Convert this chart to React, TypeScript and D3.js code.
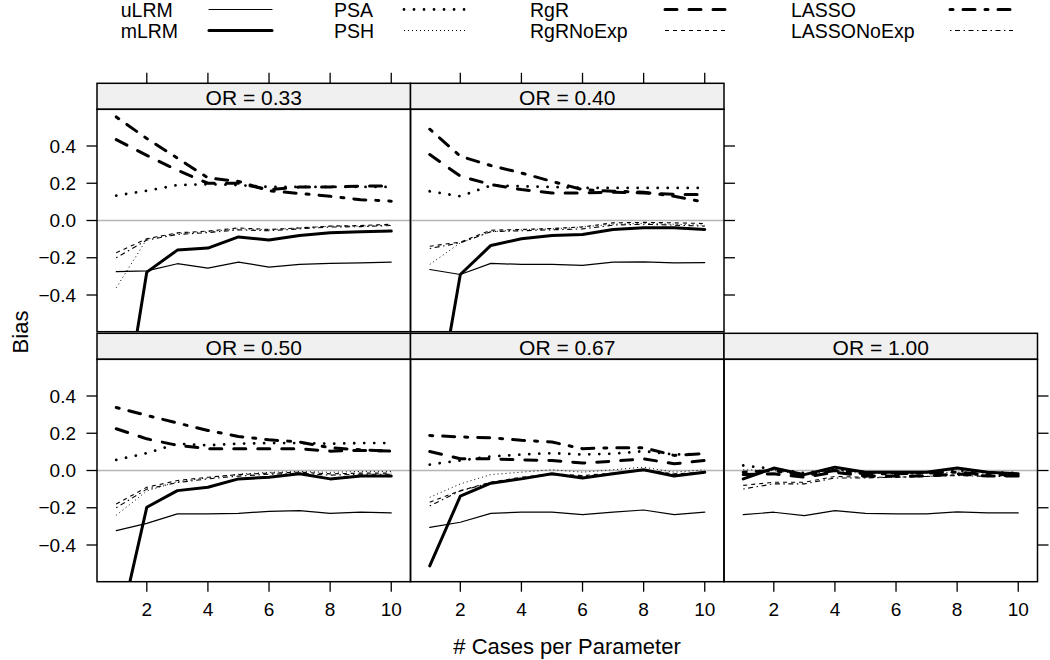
import React from "react";
import * as d3 from "d3";

// ---- data ----
const xs = [1, 2, 3, 4, 5, 6, 7, 8, 9, 10];
const panelLabels = ["OR = 0.33", "OR = 0.40", "OR = 0.50", "OR = 0.67", "OR = 1.00"];
const yTicks = [-0.4, -0.2, 0.0, 0.2, 0.4];
const xTicks = [2, 4, 6, 8, 10];
const seriesNames = ["uLRM", "mLRM", "PSA", "PSH", "RgR", "RgRNoExp", "LASSO", "LASSONoExp"];

// each array: one row per panel (OR = 0.33, 0.40, 0.50, 0.67, 1.00), values at x = 1..10
const uLRM = [
  [-0.275, -0.27, -0.232, -0.256, -0.223, -0.25, -0.236, -0.23, -0.227, -0.223],
  [-0.263, -0.29, -0.23, -0.236, -0.236, -0.241, -0.223, -0.222, -0.227, -0.226],
  [-0.323, -0.284, -0.233, -0.233, -0.23, -0.219, -0.215, -0.23, -0.224, -0.228],
  [-0.305, -0.278, -0.23, -0.224, -0.224, -0.237, -0.224, -0.212, -0.237, -0.224],
  [-0.237, -0.224, -0.242, -0.215, -0.23, -0.233, -0.233, -0.222, -0.228, -0.228],
];
const mLRM = [
  [-1.29, -0.277, -0.159, -0.148, -0.088, -0.105, -0.08, -0.066, -0.061, -0.057],
  [-1.23, -0.29, -0.134, -0.098, -0.08, -0.075, -0.048, -0.039, -0.039, -0.048],
  [-0.92, -0.197, -0.108, -0.09, -0.045, -0.036, -0.018, -0.045, -0.03, -0.03],
  [-0.512, -0.138, -0.068, -0.045, -0.018, -0.04, -0.018, 0.004, -0.03, -0.009],
  [-0.045, 0.013, -0.022, 0.018, -0.009, -0.009, -0.009, 0.014, -0.009, -0.018],
];
const PSA = [
  [0.134, 0.16, 0.19, 0.195, 0.19, 0.18, 0.18, 0.18, 0.18, 0.18],
  [0.157, 0.13, 0.188, 0.184, 0.18, 0.175, 0.175, 0.175, 0.175, 0.175],
  [0.057, 0.093, 0.144, 0.135, 0.144, 0.147, 0.147, 0.144, 0.147, 0.147],
  [0.032, 0.054, 0.075, 0.086, 0.093, 0.086, 0.09, 0.104, 0.086, 0.09],
  [0.027, 0.009, -0.014, 0.009, -0.009, -0.014, -0.014, 0.0, -0.009, -0.014],
];
const PSH = [
  [-0.361, -0.1, -0.07, -0.06, -0.045, -0.05, -0.04, -0.03, -0.03, -0.025],
  [-0.236, -0.12, -0.06, -0.05, -0.045, -0.035, -0.02, -0.015, -0.02, -0.025],
  [-0.24, -0.11, -0.06, -0.04, -0.02, -0.01, -0.005, -0.01, -0.005, -0.005],
  [-0.144, -0.072, -0.022, -0.009, 0.004, -0.009, 0.004, 0.018, -0.009, 0.004],
  [0.004, 0.0, -0.022, 0.0, -0.018, -0.014, -0.014, -0.009, -0.014, -0.018],
];
const RgR = [
  [0.434, 0.35, 0.27, 0.2, 0.2, 0.165, 0.18, 0.18, 0.185, 0.185],
  [0.354, 0.238, 0.193, 0.166, 0.148, 0.148, 0.152, 0.148, 0.14, 0.14],
  [0.224, 0.17, 0.135, 0.117, 0.117, 0.117, 0.117, 0.104, 0.108, 0.104],
  [0.102, 0.063, 0.063, 0.057, 0.054, 0.04, 0.05, 0.063, 0.036, 0.054],
  [-0.022, -0.018, -0.036, -0.009, -0.03, -0.03, -0.03, -0.018, -0.03, -0.03],
];
const RgRNoExp = [
  [-0.173, -0.098, -0.066, -0.057, -0.04, -0.048, -0.04, -0.03, -0.027, -0.02],
  [-0.138, -0.116, -0.052, -0.048, -0.043, -0.034, -0.0125, -0.01, -0.0125, -0.016],
  [-0.18, -0.09, -0.054, -0.036, -0.022, -0.014, -0.009, -0.018, -0.014, -0.014],
  [-0.17, -0.108, -0.063, -0.036, -0.018, -0.027, -0.014, 0.004, -0.018, -0.009],
  [-0.08, -0.063, -0.063, -0.032, -0.036, -0.036, -0.032, -0.022, -0.027, -0.03],
];
const LASSO = [
  [0.556, 0.44, 0.335, 0.229, 0.21, 0.16, 0.145, 0.13, 0.112, 0.104],
  [0.49, 0.345, 0.295, 0.255, 0.21, 0.166, 0.157, 0.152, 0.13, 0.098],
  [0.338, 0.296, 0.255, 0.215, 0.183, 0.165, 0.153, 0.122, 0.111, 0.104],
  [0.188, 0.18, 0.176, 0.162, 0.153, 0.117, 0.122, 0.122, 0.081, 0.09],
  [-0.009, 0.0, -0.027, 0.0, -0.018, -0.018, -0.014, -0.009, -0.022, -0.022],
];
const LASSONoExp = [
  [-0.2, -0.105, -0.075, -0.065, -0.05, -0.055, -0.045, -0.035, -0.033, -0.027],
  [-0.15, -0.12, -0.06, -0.055, -0.05, -0.045, -0.025, -0.02, -0.025, -0.03],
  [-0.2, -0.1, -0.065, -0.045, -0.03, -0.02, -0.015, -0.025, -0.02, -0.02],
  [-0.19, -0.11, -0.065, -0.04, -0.022, -0.03, -0.018, 0.0, -0.02, -0.012],
  [-0.099, -0.072, -0.072, -0.04, -0.04, -0.036, -0.032, -0.027, -0.032, -0.032],
];

const seriesData = [uLRM, mLRM, PSA, PSH, RgR, RgRNoExp, LASSO, LASSONoExp];

// ---- styles ----
type Sty = { w: number; dash?: string; cap: "round" | "butt" };
const styles: Sty[] = [
  { w: 1.2, cap: "round" },
  { w: 3, cap: "round" },
  { w: 2.8, dash: "0.01,10", cap: "round" },
  { w: 1, dash: "1,3", cap: "butt" },
  { w: 3, dash: "12,12", cap: "round" },
  { w: 1.1, dash: "4,4", cap: "butt" },
  { w: 3, dash: "3,10,12,10", cap: "round" },
  { w: 1.1, dash: "1.5,3.5,5,3.5", cap: "butt" },
];

const FONT = "'Liberation Sans', Arial, Helvetica, sans-serif";

// ---- layout ----
const colLeft = [97, 410.5, 724];
const panelW = 313.5;
const rowTop = [83.3, 333.3];
const stripH = 26;
const panelH = 222.4;
// panel slots: [col,row]
const slots = [
  [0, 0],
  [1, 0],
  [0, 1],
  [1, 1],
  [2, 1],
];

export default function App() {
  const x = d3.scaleLinear().domain([0.37, 10.63]).range([0, panelW]);
  const y = d3.scaleLinear().domain([-0.597, 0.597]).range([panelH, 0]);
  const line = d3
    .line<number>()
    .x((_, i) => x(xs[i]))
    .y((d) => y(d));

  const legendCols = [
    { tx: 120.7, lx: 209 },
    { tx: 334, lx: 404 },
    { tx: 530, lx: 665 },
    { tx: 791, lx: 950 },
  ];
  const legendLen = 63;

  return (
    <svg
      width={1050}
      height={660}
      style={{ position: "absolute", left: 0, top: 0, background: "#fff" }}
      fontFamily={FONT}
    >
      <defs>
        {slots.map((s, k) => (
          <clipPath id={`clip${k}`} key={k}>
            <rect x={0} y={0} width={panelW} height={panelH} />
          </clipPath>
        ))}
      </defs>

      {/* legend */}
      {seriesNames.map((name, i) => {
        const c = legendCols[Math.floor(i / 2)];
        const r = i % 2;
        const st = styles[i];
        const ly = r === 0 ? 9.5 : 30.5;
        return (
          <g key={name}>
            <text x={c.tx} y={r === 0 ? 16.5 : 38} fontSize={19.5} fill="#000">
              {name}
            </text>
            <line
              x1={c.lx}
              x2={c.lx + legendLen}
              y1={ly}
              y2={ly}
              stroke="#000"
              strokeWidth={st.w}
              strokeDasharray={st.dash}
              strokeLinecap={st.cap}
            />
          </g>
        );
      })}

      {slots.map(([col, row], k) => {
        const left = colLeft[col];
        const top = rowTop[row];
        const pTop = top + stripH;
        return (
          <g key={k}>
            {/* strip */}
            <rect x={left} y={top} width={panelW} height={stripH} fill="#f0f0f0" stroke="#000" strokeWidth={1.5} />
            <text x={left + panelW / 2} y={top + 21.7} textAnchor="middle" fontSize={21} fill="#000">
              {panelLabels[k]}
            </text>
            <g transform={`translate(${left},${pTop})`}>
              <g clipPath={`url(#clip${k})`}>
                <line x1={0} x2={panelW} y1={y(0)} y2={y(0)} stroke="#b5b5b5" strokeWidth={1.6} />
                {seriesData.map((sd, si) => {
                  const st = styles[si];
                  return (
                    <path
                      key={si}
                      d={line(sd[k]) || ""}
                      fill="none"
                      stroke="#000"
                      strokeWidth={st.w}
                      strokeDasharray={st.dash}
                      strokeLinecap={st.cap}
                      strokeLinejoin="round"
                    />
                  );
                })}
              </g>
              <rect x={0} y={0} width={panelW} height={panelH} fill="none" stroke="#000" strokeWidth={1.5} />
              {/* left axis for col 0 */}
              {col === 0 &&
                yTicks.map((t) => (
                  <g key={t}>
                    <line x1={-10.5} x2={0} y1={y(t)} y2={y(t)} stroke="#000" strokeWidth={1.3} />
                    <text x={-21} y={y(t)} dy="0.35em" textAnchor="end" fontSize={19} fill="#000">
                      {t.toFixed(1).replace("-", "\u2212")}
                    </text>
                  </g>
                ))}
              {/* right ticks */}
              {((row === 0 && col === 1) || (row === 1 && col === 2)) &&
                yTicks.map((t) => (
                  <line key={t} x1={panelW} x2={panelW + 11} y1={y(t)} y2={y(t)} stroke="#000" strokeWidth={1.3} />
                ))}
              {/* bottom axis */}
              {row === 1 &&
                xTicks.map((t) => (
                  <g key={t}>
                    <line x1={x(t)} x2={x(t)} y1={panelH} y2={panelH + 10} stroke="#000" strokeWidth={1.3} />
                    <text x={x(t)} y={panelH + 34.5} textAnchor="middle" fontSize={19} fill="#000">
                      {t}
                    </text>
                  </g>
                ))}
              {/* top ticks */}
              {row === 0 &&
                xTicks.map((t) => (
                  <line key={t} x1={x(t)} x2={x(t)} y1={-stripH} y2={-stripH - 10.5} stroke="#000" strokeWidth={1.3} />
                ))}
            </g>
          </g>
        );
      })}

      {/* axis titles */}
      <text x={567} y={654} textAnchor="middle" fontSize={22} fill="#000">
        # Cases per Parameter
      </text>
      <text transform="translate(28,332) rotate(-90)" textAnchor="middle" fontSize={22} fill="#000">
        Bias
      </text>
    </svg>
  );
}
